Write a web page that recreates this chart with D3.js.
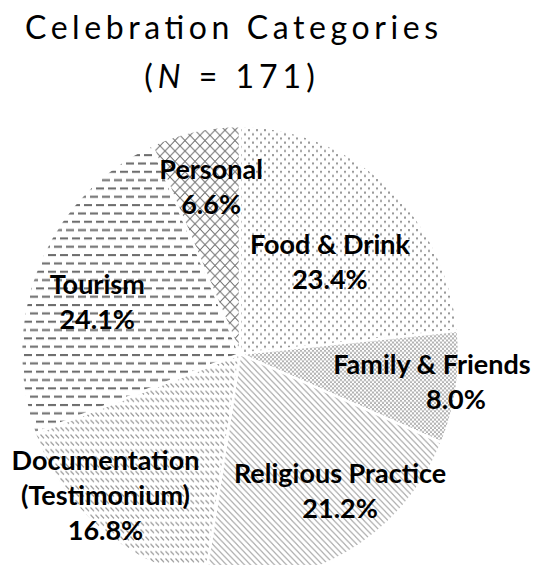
<!DOCTYPE html>
<html>
<head>
<meta charset="utf-8">
<script src="https://cdn.jsdelivr.net/npm/d3@7"></script>
<style>
  html, body { margin: 0; padding: 0; background: #fff; }
  svg { display: block; }
</style>
</head>
<body>
<div id="chart"></div>
<script>
// data
const categories = ['Food & Drink', 'Family & Friends', 'Religious Practice',
  'Documentation (Testimonium)', 'Tourism', 'Personal'];
const shares = [23.4, 8.0, 21.2, 16.8, 24.1, 6.6];
const labelLines = [['Food & Drink'], ['Family & Friends'], ['Religious Practice'],
  ['Documentation', '(Testimonium)'], ['Tourism'], ['Personal']];
const sampleSize = 171;

// layout
const width = 537;
const height = 565;
const cx = 240;
const cy = 354;
const rx = 219;
const ry = 228;
const lineHeight = 35;
// label anchor: [fraction of radius, angle shift in degrees, dx of last line]
const labelAt = [[0.575, 3.5, 0], [0.885, -0.5, 24], [0.755, -8.3, 0],
  [0.875, 5.2, 0], [0.69, -3.8, 0], [0.74, 1.6, 0]];
const patternIds = ['dots-sparse', 'dots-dense', 'diag-wide', 'diag-dash',
  'dash-horiz', 'diamond'];

const svg = d3.select('#chart')
    .append('svg')
    .attr('width', width)
    .attr('height', height);

const defs = svg.append('defs');

const addPattern = (id, w, h) => defs.append('pattern')
    .attr('id', id)
    .attr('patternUnits', 'userSpaceOnUse')
    .attr('width', w)
    .attr('height', h);

// sparse dots
const p1 = addPattern('dots-sparse', 8, 8);
p1.append('rect').attr('x', 0).attr('y', 0).attr('width', 2).attr('height', 2).attr('fill', '#9a9a9a');
p1.append('rect').attr('x', 4).attr('y', 4).attr('width', 2).attr('height', 2).attr('fill', '#9a9a9a');

// dense dots
const p2 = addPattern('dots-dense', 4, 4);
p2.append('rect').attr('x', 0).attr('y', 0).attr('width', 2).attr('height', 2).attr('fill', '#b4b4b4');
p2.append('rect').attr('x', 2).attr('y', 2).attr('width', 2).attr('height', 2).attr('fill', '#b4b4b4');

// wide downward diagonal
addPattern('diag-wide', 6, 6)
    .append('path')
    .attr('d', 'M-1,-1L7,7M-1,5L1,7M5,-1L7,1')
    .attr('stroke', '#b0b0b0')
    .attr('stroke-width', 1.3);

// dashed downward diagonal
addPattern('diag-dash', 5, 7)
    .append('path')
    .attr('d', 'M0.5,0.5L4,4')
    .attr('stroke', '#999')
    .attr('stroke-width', 1.3);

// dashed horizontal
const p5 = addPattern('dash-horiz', 12, 16);
p5.append('rect').attr('x', 0).attr('y', 0).attr('width', 8).attr('height', 2).attr('fill', '#6e6e6e');
p5.append('rect').attr('x', 6).attr('y', 8).attr('width', 6).attr('height', 2).attr('fill', '#6e6e6e');
p5.append('rect').attr('x', 0).attr('y', 8).attr('width', 2).attr('height', 2).attr('fill', '#6e6e6e');

// outlined diamond
addPattern('diamond', 10, 10)
    .append('path')
    .attr('d', 'M0,0L10,10M10,0L0,10')
    .attr('stroke', '#707070')
    .attr('stroke-width', 1);

// title
const title = svg.append('g')
    .attr('font-family', 'Lato, "Open Sans", sans-serif')
    .attr('fill', '#000');

title.append('text')
    .attr('x', 25)
    .attr('y', 39)
    .attr('font-size', 32)
    .attr('textLength', 413)
    .attr('lengthAdjust', 'spacing')
    .text('Celebration Categories');

const sub = title.append('text')
    .attr('x', 232)
    .attr('y', 88)
    .attr('font-size', 32)
    .attr('letter-spacing', 5)
    .attr('text-anchor', 'middle');
sub.append('tspan').text('(');
sub.append('tspan').attr('font-style', 'italic').text('N');
sub.append('tspan').text(` = ${sampleSize})`);

// pie
const pie = d3.pie().sort(null).value((d) => d)(shares);
const arc = d3.arc().innerRadius(0).outerRadius(rx);

svg.append('g')
    .attr('transform', `translate(${cx},${cy}) scale(1,${ry / rx})`)
    .selectAll('path')
    .data(pie)
    .join('path')
    .attr('d', arc)
    .attr('fill', (d, i) => `url(#${patternIds[i]})`)
    .attr('stroke', '#fff')
    .attr('stroke-width', 2.5)
    .attr('stroke-linejoin', 'round');

// labels
const fmt = d3.format('.1f');
const labels = svg.append('g')
    .attr('font-family', 'Lato, "Open Sans", sans-serif')
    .attr('font-weight', 'bold')
    .attr('font-size', 27)
    .attr('text-anchor', 'middle')
    .attr('fill', '#000');

pie.forEach((d, i) => {
  const [f, shift, lastDx] = labelAt[i];
  const a = (d.startAngle + d.endAngle) / 2 + shift * Math.PI / 180;
  const x = cx + Math.sin(a) * rx * f;
  const y = cy - Math.cos(a) * ry * f;
  const lines = labelLines[i].concat([fmt(d.data) + '%']);
  const y0 = y - (lines.length - 1) * lineHeight / 2 + 9;
  const text = labels.append('text').attr('data-name', categories[i]);
  lines.forEach((s, j) => {
    text.append('tspan')
        .attr('x', x + (j === lines.length - 1 ? lastDx : 0))
        .attr('y', y0 + j * lineHeight)
        .text(s);
  });
});
</script>
</body>
</html>
